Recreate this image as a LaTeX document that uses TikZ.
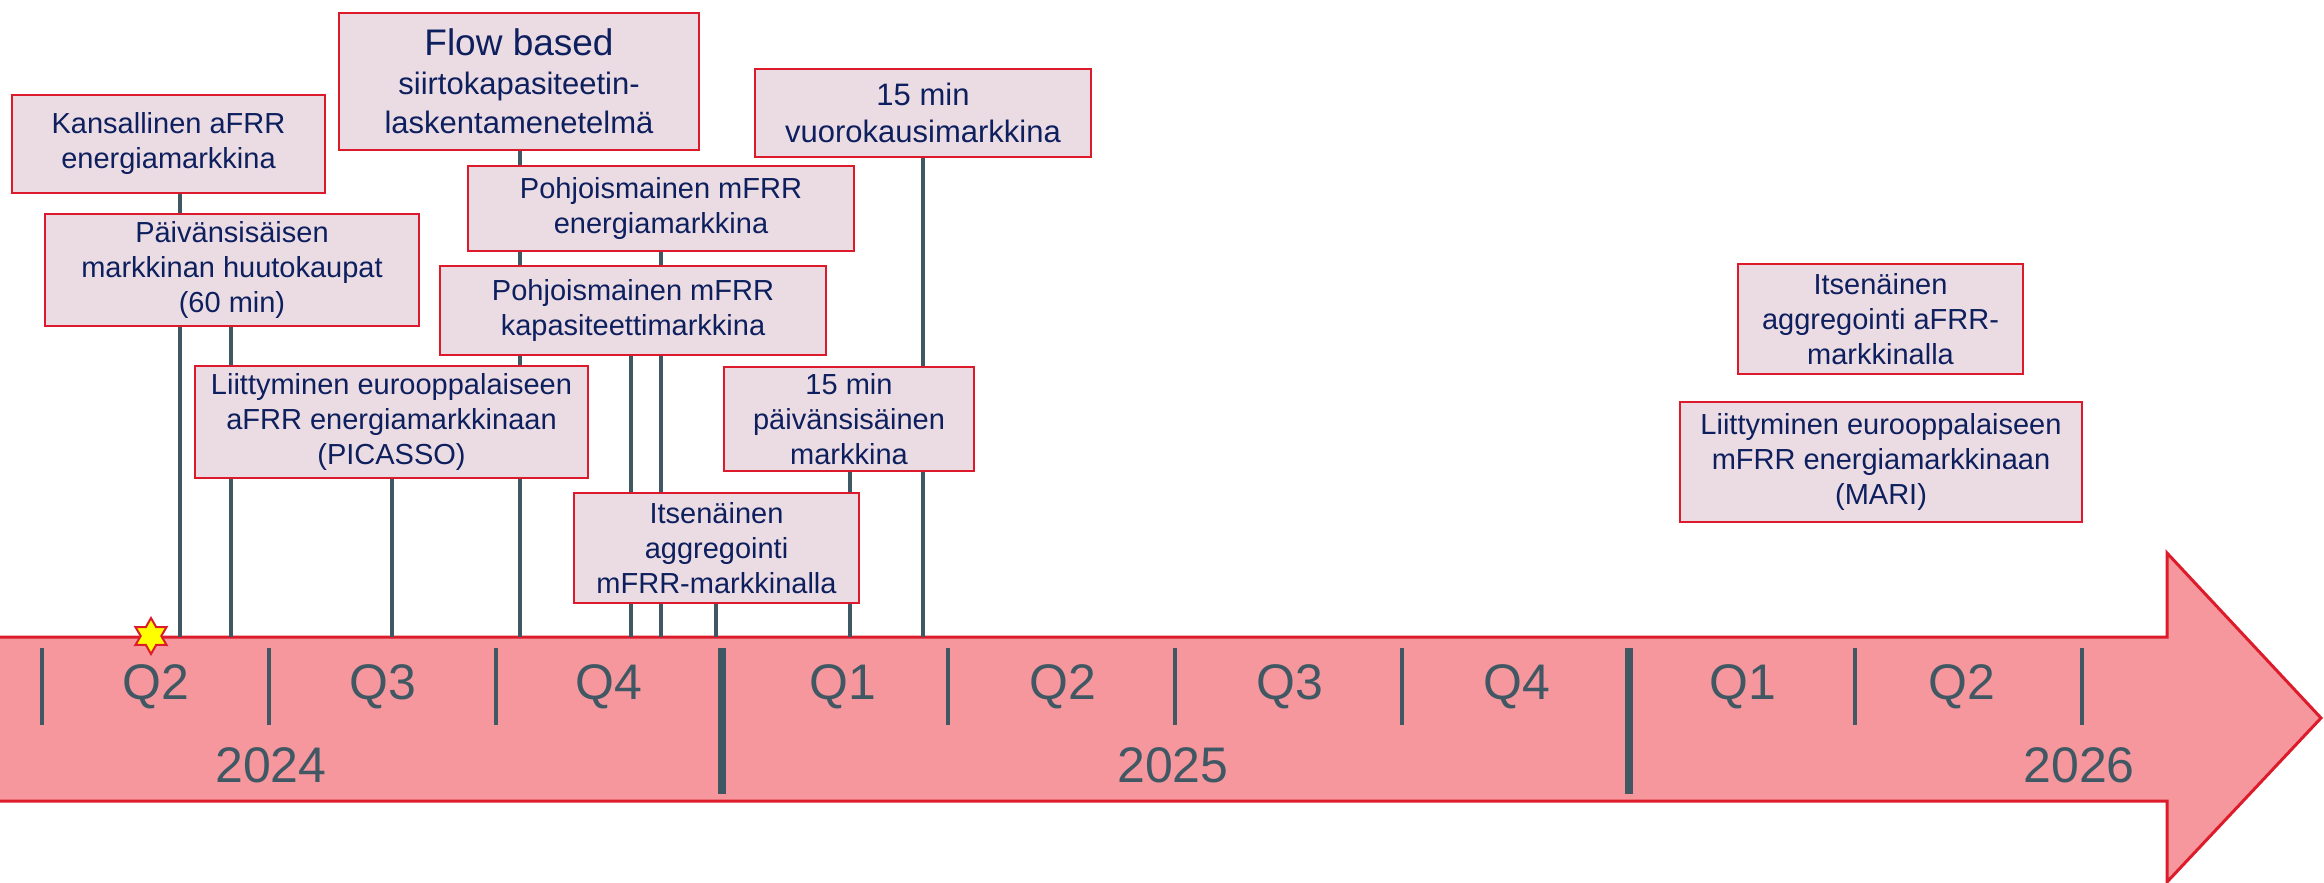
\documentclass[tikz,border=0pt]{standalone}
\usepackage{fontspec}
\setmainfont{Liberation Sans}
\usetikzlibrary{shapes.geometric,backgrounds}
\definecolor{boxfill}{HTML}{EBDCE4}
\definecolor{boxred}{HTML}{DD1A2B}
\definecolor{navy}{HTML}{0E1F5E}
\definecolor{slate}{HTML}{3F5863}
\definecolor{tlfill}{HTML}{F5979C}
\definecolor{tlred}{HTML}{DC1B2B}
\definecolor{staryellow}{HTML}{FFFF00}
\begin{document}
\begin{tikzpicture}[x=1pt,y=-1pt,
  evbox/.style={draw=boxred, line width=2.6pt, fill=boxfill, text=navy, align=center,
    inner sep=0pt, font=\fontsize{29}{35}\selectfont},
  conn/.style={draw=slate, line width=3.5pt},
  qtick/.style={draw=slate, line width=3.3pt},
  ydiv/.style={draw=slate, line width=8pt},
  qlabel/.style={text=slate, font=\fontsize{50}{60}\selectfont, anchor=base, inner sep=0pt},
]
\useasboundingbox (0,0) rectangle (2324,883);

% event boxes
\node[evbox, minimum width=313pt, minimum height=98pt] (kans) at (168.5,144) {Kansallinen aFRR\\energiamarkkina};
\node[evbox, minimum width=374pt, minimum height=112pt] (paiv) at (232,270) {Päivänsisäisen\\markkinan huutokaupat\\(60 min)};
\node[evbox, minimum width=360pt, minimum height=137pt, font=\fontsize{31}{39}\selectfont] (flow) at (519,81.5)
  {{\fontsize{37}{40}\selectfont Flow based}\\siirtokapasiteetin-\\laskentamenetelmä};
\node[evbox, minimum width=336pt, minimum height=88pt, font=\fontsize{31}{37}\selectfont] (vuoro) at (923,113) {15 min\\vuorokausimarkkina};
\node[evbox, minimum width=386pt, minimum height=85pt] (energ) at (661,208.5) {Pohjoismainen mFRR\\energiamarkkina};
\node[evbox, minimum width=386pt, minimum height=89pt] (kapas) at (633,310.5) {Pohjoismainen mFRR\\kapasiteettimarkkina};
\node[evbox, minimum width=393pt, minimum height=112pt] (picas) at (391.5,422) {Liittyminen eurooppalaiseen\\aFRR energiamarkkinaan\\(PICASSO)};
\node[evbox, minimum width=250pt, minimum height=104pt] (paiv15) at (849,419) {15 min\\päivänsisäinen\\markkina};
\node[evbox, minimum width=285pt, minimum height=110pt] (itsm) at (716.5,548) {Itsenäinen\\aggregointi\\mFRR-markkinalla};
\node[evbox, minimum width=285pt, minimum height=110pt] (itsa) at (1880.5,319) {Itsenäinen\\aggregointi aFRR-\\markkinalla};
\node[evbox, minimum width=402pt, minimum height=120pt] (mari) at (1881,462) {Liittyminen eurooppalaiseen\\mFRR energiamarkkinaan\\(MARI)};

% feet of connectors on the timeline
\foreach \x in {180,231,392,520,631,661,716,850,923}
  \coordinate (f\x) at (\x,637);

\begin{scope}[on background layer]
% timeline arrow
\path[fill=tlfill, draw=tlred, line width=3pt, line join=miter]
  (-10,637) -- (2167,637) -- (2167,553) -- (2321,718) -- (2167,882) -- (2167,801) -- (-10,801) -- cycle;
% quarter ticks
\foreach \x in {42,269,496,948,1175,1402,1855,2082}
  \draw[qtick] (\x,648) -- (\x,725);
% year dividers
\foreach \x in {722,1629}
  \draw[ydiv] (\x,648) -- (\x,794);
% quarter labels
\node[qlabel] (q2a) at (156,699) {Q2};
\node[qlabel] (q3a) at (383,699) {Q3};
\node[qlabel] (q4a) at (609,699) {Q4};
\node[qlabel] (q1b) at (843,699) {Q1};
\node[qlabel] (q2b) at (1063,699) {Q2};
\node[qlabel] (q3b) at (1290,699) {Q3};
\node[qlabel] (q4b) at (1517,699) {Q4};
\node[qlabel] (q1c) at (1743,699) {Q1};
\node[qlabel] (q2c) at (1962,699) {Q2};
% year labels
\node[qlabel] (y24) at (271,782) {2024};
\node[qlabel] (y25) at (1173,782) {2025};
\node[qlabel] (y26) at (2079,782) {2026};
% connectors (behind the boxes)
\draw[conn] (kans.south -| f180) -- (f180);
\draw[conn] (paiv.south -| f231) -- (f231);
\draw[conn] (picas.south -| f392) -- (f392);
\draw[conn] (flow.south -| f520) -- (f520);
\draw[conn] (kapas.south -| f631) -- (f631);
\draw[conn] (energ.south -| f661) -- (f661);
\draw[conn] (itsm.south -| f716) -- (f716);
\draw[conn] (paiv15.south -| f850) -- (f850);
\draw[conn] (vuoro.south -| f923) -- (f923);
\end{scope}

% star marker
\node[star, star points=6, star point ratio=1.75, minimum size=36pt, inner sep=0pt,
  fill=staryellow, draw=tlred, line width=2pt] (now) at (151,636) {};
\end{tikzpicture}
\end{document}
